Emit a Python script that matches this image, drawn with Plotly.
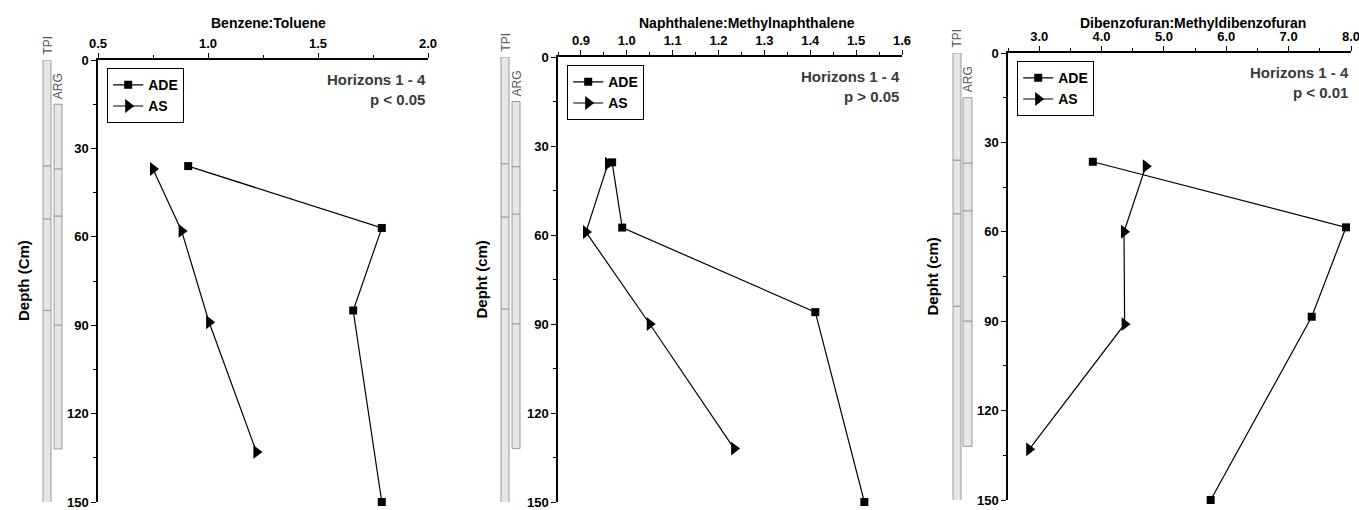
import plotly.graph_objects as go

# ---------------- data ----------------
titles = ["Benzene:Toluene", "Naphthalene:Methylnaphthalene", "Dibenzofuran:Methyldibenzofuran"]
ytitles = ["Depth (Cm)", "Depht (cm)", "Depht (cm)"]
stats = ["Horizons 1 - 4<br>p < 0.05", "Horizons 1 - 4<br>p > 0.05", "Horizons 1 - 4<br>p < 0.01"]

# Benzene:Toluene
bt_ade_x = [0.91, 1.79, 1.66, 1.79]
bt_ade_y = [36, 57, 85, 150]
bt_as_x = [0.75, 0.88, 1.005, 1.22]
bt_as_y = [37, 58, 89, 133]

# Naphthalene:Methylnaphthalene
nm_ade_x = [0.968, 0.99, 1.411, 1.518]
nm_ade_y = [35.5, 57.5, 86, 150]
nm_as_x = [0.959, 0.911, 1.05, 1.234]
nm_as_y = [36, 59, 90, 132]

# Dibenzofuran:Methyldibenzofuran
df_ade_x = [3.86, 7.92, 7.37, 5.75]
df_ade_y = [36.5, 58.5, 88.5, 150]
df_as_x = [4.71, 4.36, 4.37, 2.84]
df_as_y = [38, 60, 91, 133]

# horizon boundaries (depth, cm)
tpi_bounds = [0, 36, 54, 85, 152]
arg_bounds = [15, 37, 53, 90, 132]

x_ranges = [[0.5, 2.0], [0.85, 1.6], [2.5, 8.0]]
x_tick0 = [0.5, 0.9, 3.0]
x_dtick = [0.5, 0.1, 1.0]
x_minor = [0.25, 0.05, 0.5]

# ---------------- layout geometry (pixels) ----------------
W, H = 1359, 510
x_dom_px = [(98, 428), (558, 902), (1008, 1351)]
y_dom_px = [(60, 502), (57, 502), (53, 500)]
title_x_px = [268, 747, 1193]
ytitle_x_px = [23, 481, 932]
tpi_col_px = [(43, 51), (501, 509), (953, 961)]
arg_col_px = [(54, 62), (512, 520), (963, 972)]

FONT = "Liberation Sans, Arial, sans-serif"

def px(x):
    return x / W

def py(y):
    return (H - y) / H

series = [
    (bt_ade_x, bt_ade_y, bt_as_x, bt_as_y),
    (nm_ade_x, nm_ade_y, nm_as_x, nm_as_y),
    (df_ade_x, df_ade_y, df_as_x, df_as_y),
]

fig = go.Figure()
shapes = []
annotations = []

for i in range(3):
    sfx = "" if i == 0 else str(i + 1)
    xa, ya = "x" + sfx, "y" + sfx
    leg = "legend" + sfx
    ade_x, ade_y, as_x, as_y = series[i]
    fig.add_trace(go.Scatter(
        x=ade_x, y=ade_y, mode="lines+markers", name="ADE",
        xaxis=xa, yaxis=ya, legend=leg, cliponaxis=False,
        line=dict(color="black", width=1.2),
        marker=dict(symbol="square", size=8, color="black"),
    ))
    fig.add_trace(go.Scatter(
        x=as_x, y=as_y, mode="lines+markers", name="AS",
        xaxis=xa, yaxis=ya, legend=leg, cliponaxis=False,
        line=dict(color="black", width=1.2),
        marker=dict(symbol="triangle-right", size=12, color="black"),
    ))

    x0p, x1p = x_dom_px[i]
    y0p, y1p = y_dom_px[i]
    axcommon = dict(showline=True, linecolor="black", linewidth=1.5,
                    ticks="outside", tickcolor="black", tickwidth=1.3,
                    showgrid=False, zeroline=False, automargin=False,
                    ticklabeloverflow="allow",
                    tickfont=dict(family=FONT, size=13, color="black", weight="bold"))
    fig.update_layout(**{
        "xaxis" + sfx: dict(
            axcommon, domain=[px(x0p), px(x1p)], range=x_ranges[i], side="top",
            anchor=ya, tick0=x_tick0[i], dtick=x_dtick[i], tickformat=".1f",
            ticklen=5,
            minor=dict(ticks="outside", dtick=x_minor[i], tick0=x_tick0[i],
                       ticklen=3, tickcolor="black", tickwidth=1.2, showgrid=False),
        ),
        "yaxis" + sfx: dict(
            axcommon, domain=[py(y1p), py(y0p)], range=[150, 0],
            anchor=xa, tick0=0, dtick=30, ticklen=5,
            minor=dict(ticks="outside", dtick=15, tick0=0,
                       ticklen=3, tickcolor="black", tickwidth=1.2, showgrid=False),
        ),
        leg: dict(
            x=px(x0p + 9), y=py(y0p + 8), xanchor="left", yanchor="top",
            bordercolor="black", borderwidth=1.2, bgcolor="white",
            font=dict(family=FONT, size=14, color="black", weight="bold"),
            itemwidth=30, tracegroupgap=0,
        ),
    })

    # panel title
    annotations.append(dict(
        text="<b>" + titles[i] + "</b>", x=px(title_x_px[i]), y=py(23),
        xref="paper", yref="paper", xanchor="center", yanchor="middle",
        showarrow=False, font=dict(family=FONT, size=14, color="black")))
    # y title
    annotations.append(dict(
        text="<b>" + ytitles[i] + "</b>", x=px(ytitle_x_px[i]), y=75,
        xref="paper", yref=ya, xanchor="center", yanchor="middle",
        textangle=-90, showarrow=False,
        font=dict(family=FONT, size=15, color="black")))
    # stats text
    annotations.append(dict(
        text="<b>" + stats[i] + "</b>", x=x_ranges[i][1], y=3,
        xref=xa, yref=ya, xanchor="right", yanchor="top", align="right",
        showarrow=False, font=dict(family=FONT, size=15, color="#3a3a3a")))

    # horizon columns
    for bounds, col, label in ((tpi_bounds, tpi_col_px[i], "TPI"),
                               (arg_bounds, arg_col_px[i], "ARG")):
        for k in range(len(bounds) - 1):
            shapes.append(dict(
                type="rect", xref="paper", yref=ya,
                x0=px(col[0]), x1=px(col[1]), y0=bounds[k], y1=bounds[k + 1],
                fillcolor="#e6e6e6", line=dict(color="#9a9a9a", width=1),
                layer="below"))
        annotations.append(dict(
            text=label, x=px((col[0] + col[1]) / 2), y=bounds[0],
            xref="paper", yref=ya, xanchor="center", yanchor="bottom",
            yshift=3, textangle=-90, showarrow=False,
            font=dict(family=FONT, size=12, color="#555555")))

fig.update_layout(
    width=W, height=H,
    margin=dict(l=0, r=0, t=0, b=0, pad=0, autoexpand=False),
    paper_bgcolor="white", plot_bgcolor="white",
    showlegend=True,
    shapes=shapes, annotations=annotations,
    font=dict(family=FONT),
)

fig.write_html(
    "out.html",
    config={"displayModeBar": False},
    post_script="document.body.style.margin='0';document.body.style.overflow='hidden';",
)
